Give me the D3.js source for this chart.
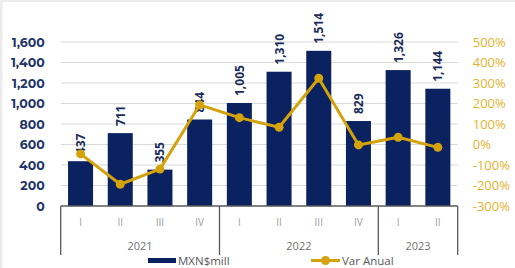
<!DOCTYPE html>
<html><head><meta charset="utf-8">
<script src="https://cdn.jsdelivr.net/npm/d3@7"></script>
<style>body{margin:0;background:#fff}svg{display:block}</style>
</head><body><svg id="c" width="515" height="268"></svg>
<script>
const quarters = ["I","II","III","IV","I","II","III","IV","I","II"];
const years = ["2021","2021","2021","2021","2022","2022","2022","2022","2023","2023"];
const yearGroups = ["2021","2022","2023"];
const mxn = [437,711,355,844,1005,1310,1514,829,1326,1144];
const varAnual = [-46,-194,-120,193,131,84,323,-2,35,-14];
const leftTicks = [0,200,400,600,800,1000,1200,1400,1600];
const rightTicks = [-300,-200,-100,0,100,200,300,400,500];

const svg = d3.select("#c");
const W=515,H=268;
svg.append("rect").attr("width",W).attr("height",H).attr("fill","#fff");
// frame
svg.append("rect").attr("x",0).attr("y",0).attr("width",2.5).attr("height",H).attr("fill","#ececec");
svg.append("rect").attr("x",0).attr("y",0).attr("width",W).attr("height",2).attr("fill","#ececec");

const x0=60.7,x1=457.7,yTop=42,yBot=206;
const idx = d3.range(mxn.length);
const x = d3.scaleBand().domain(idx).range([x0,x1]).paddingInner(0.37).paddingOuter(0.185);
const y = d3.scaleLinear().domain([0,1600]).range([yBot,yTop]);
const y2 = d3.scaleLinear().domain([-300,500]).range([yBot,yTop]);

const navy="#0b2260", gold="#d4a20a";

// gridlines
svg.append("g").selectAll("line").data(leftTicks.slice(1)).join("line")
 .attr("x1",x0).attr("x2",x1).attr("y1",d=>y(d)).attr("y2",d=>y(d))
 .attr("stroke","#d9d9d9").attr("stroke-width",1);

// left axis
const ga = svg.append("g").attr("transform",`translate(${x0},0)`)
 .call(d3.axisLeft(y).tickValues(leftTicks).tickFormat(d3.format(",")).tickSize(0).tickPadding(16));
ga.select(".domain").remove();
ga.selectAll("text").attr("font-family","Montserrat, 'Open Sans', sans-serif").attr("font-weight","bold")
 .attr("font-size",12.5).attr("fill","#1f3468");

// right axis
const gr = svg.append("g").attr("transform",`translate(${x1},0)`)
 .call(d3.axisRight(y2).tickValues(rightTicks).tickFormat(d=>d+"%").tickSize(0).tickPadding(15));
gr.select(".domain").remove();
gr.selectAll("text").attr("font-family","'Open Sans', sans-serif").attr("font-size",13)
 .attr("fill","#e3b32e");

// bars
svg.append("g").selectAll("rect").data(idx).join("rect")
 .attr("x",i=>x(i)).attr("width",x.bandwidth())
 .attr("y",i=>y(mxn[i])).attr("height",i=>yBot-y(mxn[i])).attr("fill",navy);

// bar labels
svg.append("g").selectAll("text").data(idx).join("text")
 .attr("transform",i=>`translate(${x(i)+x.bandwidth()/2+4.5},${y(mxn[i])-7}) rotate(-90)`)
 .attr("font-family","'Open Sans', sans-serif").attr("font-weight","bold").attr("font-size",12)
 .attr("fill","#1a2a5a").text(i=>d3.format(",")(mxn[i]));

// line
const cx = i=>x(i)+x.bandwidth()/2;
svg.append("path").datum(idx)
 .attr("d",d3.line().x(cx).y(i=>y2(varAnual[i])))
 .attr("fill","none").attr("stroke",gold).attr("stroke-width",3).attr("stroke-linejoin","round");
svg.append("g").selectAll("circle").data(idx).join("circle")
 .attr("cx",cx).attr("cy",i=>y2(varAnual[i])).attr("r",4.5).attr("fill",gold);

// x axis
svg.append("line").attr("x1",x0).attr("x2",x1).attr("y1",yBot).attr("y2",yBot).attr("stroke","#595959").attr("stroke-width",1.3);
const step = (x1-x0)/mxn.length;
const bounds=[0,4,8,10];
svg.append("g").selectAll("line").data(bounds).join("line")
 .attr("x1",b=>x0+b*step).attr("x2",b=>x0+b*step).attr("y1",yBot).attr("y2",255)
 .attr("stroke","#595959").attr("stroke-width",1.3);
svg.append("g").selectAll("text").data(idx).join("text")
 .attr("x",cx).attr("y",226).attr("text-anchor","middle")
 .attr("font-family","'Open Sans', sans-serif").attr("font-size",10).attr("fill","#a0a0a0")
 .text(i=>quarters[i]);
svg.append("g").selectAll("text").data(yearGroups).join("text")
 .attr("x",(g,k)=>x0+(bounds[k]+bounds[k+1])/2*step).attr("y",250).attr("text-anchor","middle")
 .attr("font-family","'Open Sans', sans-serif").attr("font-size",11).attr("fill","#707070")
 .text(g=>g);

// legend
const lg = svg.append("g");
lg.append("rect").attr("x",148).attr("y",258).attr("width",28).attr("height",5).attr("fill",navy);
lg.append("text").attr("x",178).attr("y",265).attr("font-family","'Open Sans', sans-serif").attr("font-size",11.5).attr("fill","#595959").text("MXN$mill");
lg.append("line").attr("x1",311).attr("x2",340).attr("y1",260.5).attr("y2",260.5).attr("stroke",gold).attr("stroke-width",3);
lg.append("circle").attr("cx",325.5).attr("cy",260.5).attr("r",4.5).attr("fill",gold);
lg.append("text").attr("x",342).attr("y",265).attr("font-family","'Open Sans', sans-serif").attr("font-size",11.5).attr("fill","#595959").text("Var Anual");
</script></body></html>
